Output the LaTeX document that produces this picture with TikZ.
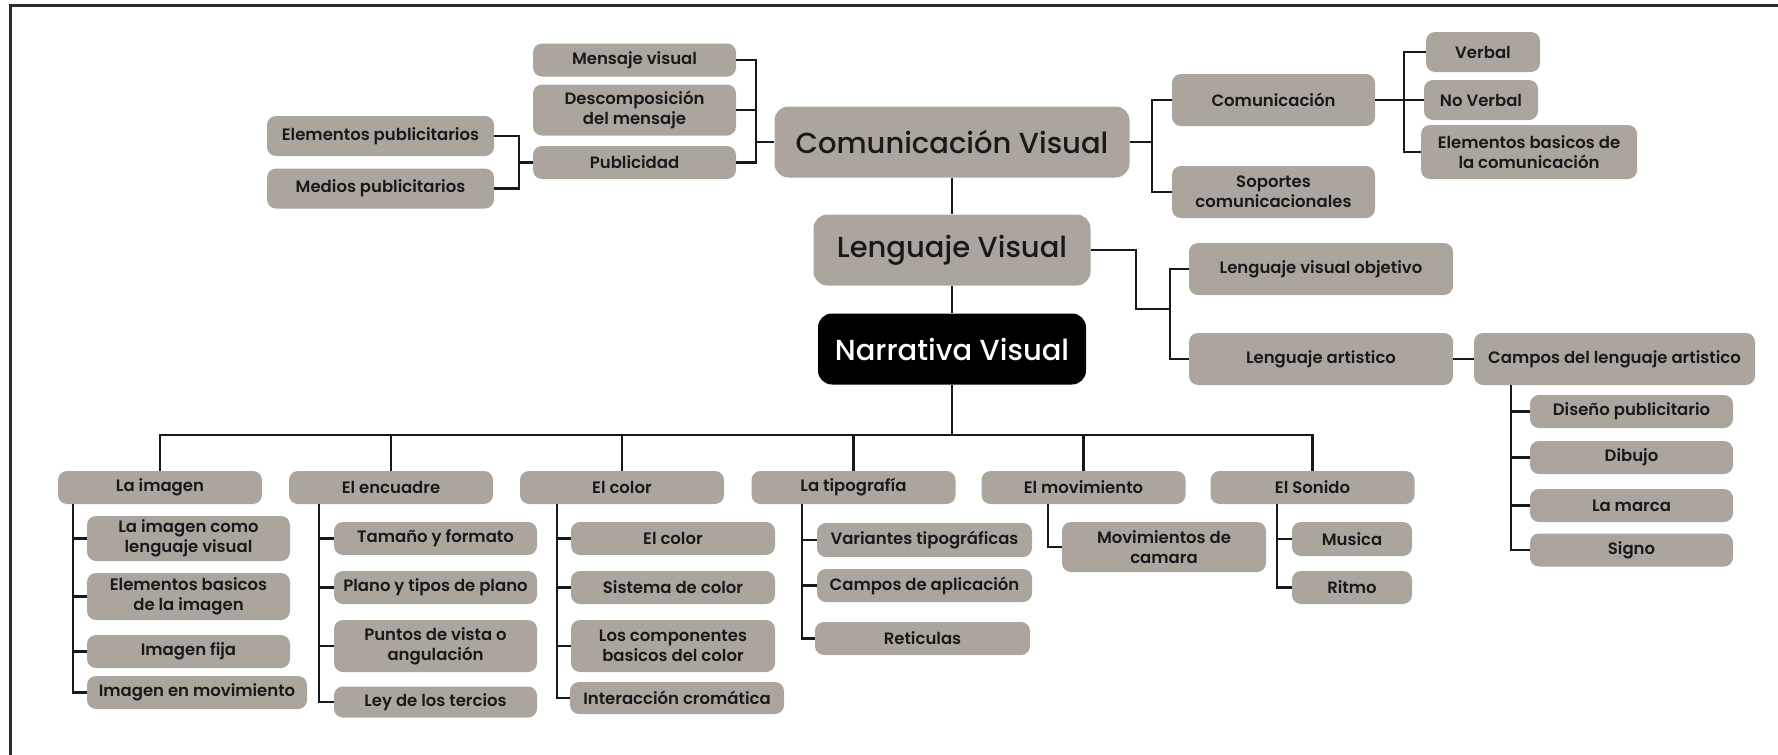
\documentclass[tikz,border=0pt]{standalone}
\usepackage{fontspec}
\setmainfont{Poppins SemiBold}
\newfontfamily\popmed{Poppins Medium}
\usetikzlibrary{positioning}
\definecolor{boxgray}{RGB}{171,165,158}
\definecolor{ink}{RGB}{25,25,25}
\definecolor{framegray}{RGB}{45,45,45}
\tikzset{
  every node/.style={font=\fontsize{16.5}{20}\selectfont},
  box/.style={rectangle, rounded corners=9pt, fill=boxgray, text=ink,
    align=center, inner sep=0pt, minimum width=203pt, minimum height=33pt},
  big box/.style={box, rounded corners=14pt, minimum height=71pt,
    font=\popmed\fontsize{29}{34}\selectfont},
  dark box/.style={big box, fill=black, text=white},
  link/.style={draw=ink, line width=2.6pt}
}

\begin{document}
\begin{tikzpicture}[x=1pt,y=-1pt]
  \useasboundingbox (0,0) rectangle (1778,755);
  \draw[framegray, line width=3pt] (10,760) -- (10,5) -- (1790,5);

  % centre column
  \node[big box, minimum width=355pt] (comvis) at (952,142) {Comunicación Visual};
  \node[big box, minimum width=277pt] (lengvis) at (952,250) {Lenguaje Visual};
  \node[dark box, minimum width=268pt] (narrativa) at (952,349) {Narrativa Visual};

  % upper left branch
  \node[box] (mensaje) at (634.5,60) {Mensaje visual};
  \node[box, minimum height=51pt] (descomp) at (634.5,110) {Descomposición\\del mensaje};
  \node[box] (publicidad) at (634.5,162.5) {Publicidad};
  \node[box, minimum width=227pt, minimum height=40pt] (elempub) at (380.5,136) {Elementos publicitarios};
  \node[box, minimum width=227pt, minimum height=40pt] (mediospub) at (380.5,188.5) {Medios publicitarios};

  % upper right branch
  \node[box, minimum height=52pt] (comunic) at (1273.5,100) {Comunicación};
  \node[box, minimum height=52pt] (soportes) at (1273.5,192) {Soportes\\comunicacionales};
  \node[box, minimum width=114pt, minimum height=40pt] (verbal) at (1483,52) {Verbal};
  \node[box, minimum width=114pt, minimum height=40pt] (noverbal) at (1481,100) {No Verbal};
  \node[box, minimum width=216pt, minimum height=54pt] (elembas) at (1529,152) {Elementos basicos de\\la comunicación};

  % lenguaje visual branch
  \node[box, minimum width=264pt, minimum height=52pt] (lvobj) at (1321,269) {Lenguaje visual objetivo};
  \node[box, minimum width=264pt, minimum height=52pt] (lvart) at (1321,359) {Lenguaje artistico};
  \node[box, minimum width=281pt, minimum height=52pt] (campos) at (1614.5,359) {Campos del lenguaje artistico};
  \node[box] (diseno) at (1631.5,411.5) {Diseño publicitario};
  \node[box] (dibujo) at (1631.5,457.5) {Dibujo};
  \node[box] (marca) at (1631.5,505.5) {La marca};
  \node[box] (signo) at (1631.5,550) {Signo};

  % narrativa visual categories
  \node[box, minimum width=204pt] (imagen) at (160,487.5) {La imagen};
  \node[box, minimum width=204pt] (encuadre) at (391,487.5) {El encuadre};
  \node[box, minimum width=204pt] (color) at (622,487.5) {El color};
  \node[box, minimum width=204pt] (tipo) at (853.5,487.5) {La tipografía};
  \node[box, minimum width=204pt] (movim) at (1083.5,487.5) {El movimiento};
  \node[box, minimum width=204pt] (sonido) at (1312.5,487.5) {El Sonido};

  \node[box, minimum height=45pt] (imgleng) at (188.5,538.5) {La imagen como\\lenguaje visual};
  \node[box, minimum height=47pt] (imgelem) at (188.5,596.5) {Elementos basicos\\de la imagen};
  \node[box] (imgfija) at (188.5,651.5) {Imagen fija};
  \node[box, minimum width=220pt] (imgmov) at (197,692.5) {Imagen en movimiento};

  \node[box] (tamano) at (435.5,538.5) {Tamaño y formato};
  \node[box] (plano) at (435.5,587.5) {Plano y tipos de plano};
  \node[box, minimum height=52pt] (puntos) at (435.5,646) {Puntos de vista o\\angulación};
  \node[box, minimum height=31pt] (ley) at (435.5,702) {Ley de los tercios};

  \node[box, minimum width=204pt] (colorsub) at (673,538.5) {El color};
  \node[box, minimum width=204pt] (sistema) at (673,587.5) {Sistema de color};
  \node[box, minimum width=204pt, minimum height=52pt] (compon) at (673,646) {Los componentes\\basicos del color};
  \node[box, minimum width=214pt, minimum height=32pt] (interac) at (677,698) {Interacción cromática};

  \node[box, minimum width=215pt, minimum height=34pt] (variantes) at (924.5,540) {Variantes tipográficas};
  \node[box, minimum width=215pt] (camposap) at (924.5,585.5) {Campos de aplicación};
  \node[box, minimum width=215pt] (reticulas) at (922.5,638.5) {Reticulas};

  \node[box, minimum width=204pt, minimum height=50pt] (movcam) at (1164,547) {Movimientos de\\camara};

  \node[box, minimum width=120pt, minimum height=34pt] (musica) at (1352,539) {Musica};
  \node[box, minimum width=120pt] (ritmo) at (1352,587.5) {Ritmo};

  % bars and knees
  \coordinate (pubbar) at (519,162.5);
  \coordinate (msgbar) at (756,142);
  \coordinate (combar) at (1152,142);
  \coordinate (verbar) at (1404,100);
  \coordinate (lvknee) at (1136,309);
  \coordinate (lvbar) at (1170,309);
  \coordinate (camposbar) at (1511,385);
  \coordinate (busmid) at (952,435);
  \coordinate (imgbar) at (73,504);
  \coordinate (encbar) at (319,504);
  \coordinate (colbar) at (557,504);
  \coordinate (tipbar) at (802,504);
  \coordinate (movbar) at (1048,504);
  \coordinate (sonbar) at (1277,504);

  \draw[link] (elempub.east) -| (pubbar) |- (mediospub.east);
  \draw[link] (pubbar) -- (publicidad.west);
  \draw[link] (mensaje.east) -| (msgbar) |- (publicidad.east);
  \draw[link] (descomp.east) -| (msgbar) -- (comvis.west);

  \draw[link] (comvis.east) -- (combar);
  \draw[link] (comunic.west) -| (combar) |- (soportes.west);
  \draw[link] (comunic.east) -- (noverbal.west);
  \draw[link] (verbal.west) -| (verbar) |- (elembas.west);

  \draw[link] (comvis.south) -- (lengvis.north);
  \draw[link] (lengvis.south) -- (narrativa.north);
  \draw[link] (lengvis.east) -| (lvknee) -- (lvbar);
  \draw[link] (lvobj.west) -| (lvbar) |- (lvart.west);
  \draw[link] (lvart.east) -- (campos.west);
  \foreach \c in {diseno,dibujo,marca,signo}
    \draw[link] (camposbar) |- (\c.west);

  \draw[link] (narrativa.south) -- (busmid);
  \draw[link] (imagen.north) |- (busmid) -| (sonido.north);
  \foreach \c in {encuadre,color,tipo,movim}
    \draw[link] (\c.north) -- (\c.north |- busmid);

  \foreach \b/\c in {imgbar/imgleng,imgbar/imgelem,imgbar/imgfija,imgbar/imgmov,
      encbar/tamano,encbar/plano,encbar/puntos,encbar/ley,
      colbar/colorsub,colbar/sistema,colbar/compon,colbar/interac,
      tipbar/variantes,tipbar/camposap,tipbar/reticulas,
      movbar/movcam,sonbar/musica,sonbar/ritmo}
    \draw[link] (\b) |- (\c.west);
\end{tikzpicture}
\end{document}
